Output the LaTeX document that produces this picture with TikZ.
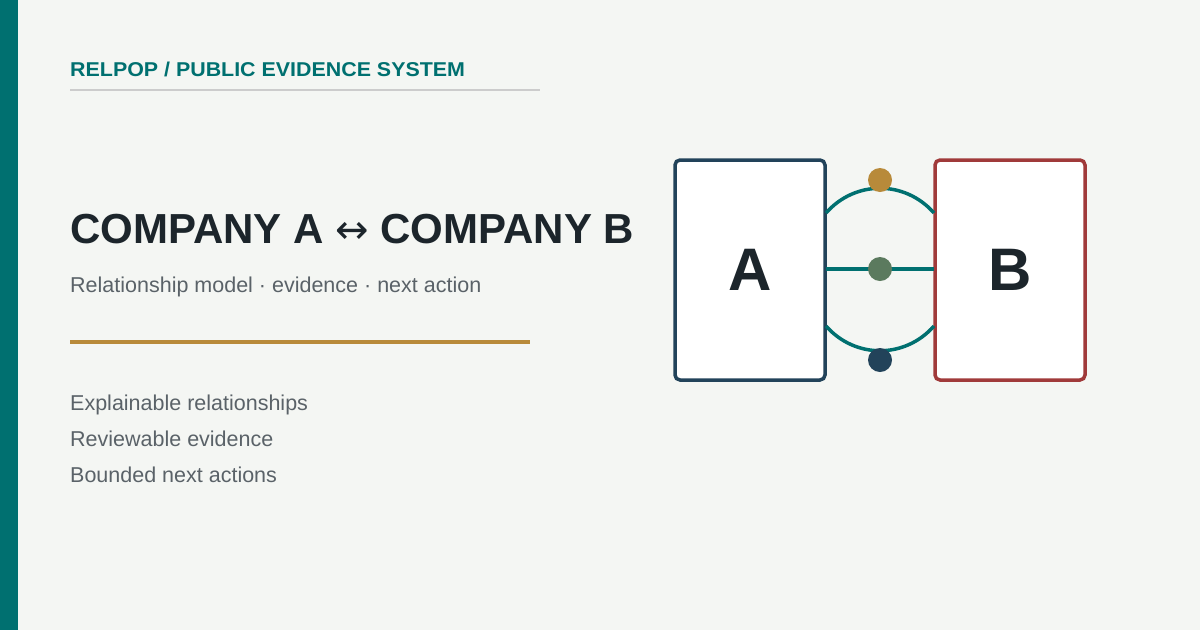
\documentclass[tikz,border=0pt]{standalone}
\usepackage{fontspec}
\setmainfont{Liberation Sans}
\newfontfamily\arrowfont{DejaVu Sans}
\definecolor{bg}{HTML}{F4F6F3}
\definecolor{teal}{HTML}{007070}
\definecolor{ink}{HTML}{1C252B}
\definecolor{mute}{HTML}{5A6268}
\definecolor{gold}{HTML}{B88A3A}
\definecolor{navy}{HTML}{22435A}
\definecolor{crim}{HTML}{A03A3A}
\definecolor{sage}{HTML}{5B7A5E}
\begin{document}
\begin{tikzpicture}[x=1pt,y=-1pt,
  txt/.style={anchor=base west,inner sep=0pt},
  box/.style={draw,line width=3.5pt,fill=white,rounded corners=5pt,minimum width=150pt,minimum height=220pt,font=\bfseries\fontsize{60}{60}\selectfont,text=ink},
  link/.style={draw=teal,line width=3.5pt},
  dot/.style={circle,minimum size=24pt,inner sep=0pt}]
\useasboundingbox (0,0) rectangle (1200,630);
\fill[bg] (0,0) rectangle (1200,630);
\fill[teal] (0,0) rectangle (18,630);
\node[txt,text=teal,font=\bfseries\fontsize{20}{20}\selectfont,xscale=1.07] (hdr) at (70,76) {RELPOP / PUBLIC EVIDENCE SYSTEM};
\draw[gray!40,line width=2pt] (70,90) -- (540,90);
\node[txt,text=ink,font=\bfseries\fontsize{42}{42}\selectfont] (title) at (70,243) {COMPANY A {\mdseries\arrowfont\fontsize{40}{40}\selectfont ↔} COMPANY B};
\node[txt,text=mute,font=\fontsize{21.5}{21.5}\selectfont] (sub) at (70,292) {Relationship model · evidence · next action};
\draw[gold,line width=3.5pt] (70,342) -- (530,342);
\node[txt,text=mute,font=\fontsize{21.5}{21.5}\selectfont] (l1) at (70,410) {Explainable relationships};
\node[txt,text=mute,font=\fontsize{21.5}{21.5}\selectfont] (l2) at (70,446) {Reviewable evidence};
\node[txt,text=mute,font=\fontsize{21.5}{21.5}\selectfont] (l3) at (70,482) {Bounded next actions};
\node[box,draw=navy] (A) at (750,270) {A};
\node[box,draw=crim] (B) at (1010,270) {B};
\coordinate (a1) at (826,213); \coordinate (b1) at (934,213);
\coordinate (a2) at (826,269); \coordinate (b2) at (934,269);
\coordinate (a3) at (826,326); \coordinate (b3) at (934,326);
\draw[link] (a1) .. controls (855,180) and (905,180) .. (b1);
\draw[link] (a2) -- (b2);
\draw[link] (a3) .. controls (855,359) and (905,359) .. (b3);
\node[dot,fill=gold] (d1) at (880,180) {};
\node[dot,fill=sage] (d2) at (880,269) {};
\node[dot,fill=navy] (d3) at (880,360) {};
\end{tikzpicture}
\end{document}
